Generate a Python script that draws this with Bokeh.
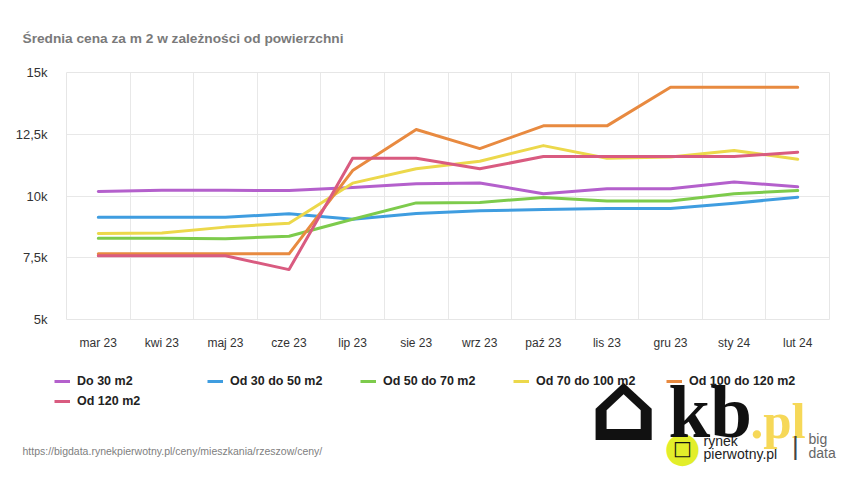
from bokeh.plotting import figure
from bokeh.models import Range1d, FixedTicker, Legend, LegendItem, Label, ColumnDataSource
from bokeh.layouts import column
from bokeh.embed import file_html
from bokeh.resources import INLINE

months = ["mar 23", "kwi 23", "maj 23", "cze 23", "lip 23", "sie 23",
          "wrz 23", "paź 23", "lis 23", "gru 23", "sty 24", "lut 24"]

do_30 = [10180, 10230, 10230, 10220, 10340, 10500, 10530, 10090, 10290, 10290, 10570, 10370]
od_30_50 = [9140, 9140, 9140, 9280, 9060, 9290, 9400, 9450, 9490, 9490, 9710, 9950]
od_50_70 = [8290, 8290, 8270, 8370, 9060, 9720, 9740, 9940, 9800, 9800, 10090, 10220]
od_70_100 = [8480, 8500, 8740, 8900, 10520, 11100, 11410, 12040, 11530, 11580, 11840, 11490]
od_100_120 = [7660, 7660, 7660, 7660, 11030, 12690, 11920, 12840, 12840, 14400, 14400, 14400]
od_120 = [7580, 7580, 7580, 7020, 11530, 11530, 11100, 11600, 11600, 11600, 11600, 11770]

series_names = ["Do 30 m2", "Od 30 do 50 m2", "Od 50 do 70 m2",
                "Od 70 do 100 m2", "Od 100 do 120 m2", "Od 120 m2"]
series_values = [do_30, od_30_50, od_50_70, od_70_100, od_100_120, od_120]
colors = ["#b460cc", "#3f9de0", "#7dcb4c", "#ecd84b", "#e88a40", "#d95b80"]

y_ticks = [5000, 7500, 10000, 12500, 15000]
y_tick_labels = ["5k", "7,5k", "10k", "12,5k", "15k"]

title_text = "Średnia cena za m 2 w zależności od powierzchni"
source_text = "https://bigdata.rynekpierwotny.pl/ceny/mieszkania/rzeszow/ceny/"

FONT = "Liberation Sans"
W = 842
H = 470
TOP_H = 60
MAIN_H = 295
BH = H - TOP_H - MAIN_H


def blank_fig(h):
    f = figure(width=W, height=h, output_backend="svg", toolbar_location=None,
               x_range=Range1d(0, W), y_range=Range1d(0, h),
               x_axis_type=None, y_axis_type=None, min_border=0,
               min_border_left=0, min_border_right=0, min_border_top=0, min_border_bottom=0,
               frame_align=False)
    f.title.visible = False
    f.outline_line_color = None
    f.xgrid.visible = False
    f.ygrid.visible = False
    f.border_fill_color = "white"
    return f


# ---------- top: title ----------
top = blank_fig(TOP_H)
top.add_layout(Label(x=22, y=22, x_units="screen", y_units="screen", text=title_text,
                     text_font=FONT, text_font_style="bold", text_font_size="13.7px",
                     text_color="#7a7a7a", text_baseline="middle"))

# ---------- main chart ----------
p = figure(width=W, height=MAIN_H, output_backend="svg", toolbar_location=None,
           x_range=Range1d(-0.5, len(months) - 0.5), y_range=Range1d(5000, 15000),
           min_border_left=66, min_border_right=13, min_border_top=12, min_border_bottom=36,
           frame_align=False)
p.title.visible = False
p.outline_line_color = "#e6e6e6"
p.border_fill_color = "white"

x = list(range(len(months)))
for name, vals, col in zip(series_names, series_values, colors):
    src = ColumnDataSource(dict(x=x, y=vals))
    p.line("x", "y", source=src, line_color=col, line_width=3, line_join="round", line_cap="round")

p.xaxis.ticker = FixedTicker(ticks=x)
p.xaxis.major_label_overrides = {i: m for i, m in enumerate(months)}
p.yaxis.ticker = FixedTicker(ticks=y_ticks)
p.yaxis.major_label_overrides = {t: l for t, l in zip(y_ticks, y_tick_labels)}
for ax in (p.xaxis, p.yaxis):
    ax.axis_line_color = None
    ax.major_tick_line_color = None
    ax.minor_tick_line_color = None
    ax.major_label_text_font = FONT
    ax.major_label_text_color = "#333333"
p.xaxis.major_label_text_font_size = "12px"
p.yaxis.major_label_text_font_size = "13px"
p.xaxis.major_label_standoff = 10
p.yaxis.major_label_standoff = 13

p.xgrid.ticker = FixedTicker(ticks=[i - 0.5 for i in range(len(months) + 1)])
p.xgrid.grid_line_color = "#e8e8e8"
p.ygrid.grid_line_color = "#e8e8e8"

# ---------- bottom: legend, source, logo ----------
bot = blank_fig(BH)
items = []
for name, col in zip(series_names, colors):
    r = bot.line(x=[float("nan")], y=[float("nan")], line_color=col, line_width=3)
    items.append(LegendItem(label=name, renderers=[r]))

legend = Legend(items=items, orientation="horizontal", ncols=5, location=(54, H - 408),
                padding=0, margin=0, spacing=6, glyph_width=16, glyph_height=14,
                label_standoff=7, label_width=124, label_height=14,
                label_text_font=FONT, label_text_font_style="bold",
                label_text_font_size="12.5px", label_text_color="#222222",
                border_line_color=None, background_fill_alpha=0)
bot.add_layout(legend)

bot.add_layout(Label(x=22, y=H - 450, x_units="screen", y_units="screen", text=source_text,
                     text_font=FONT, text_font_size="10.5px", text_color="#808080",
                     text_baseline="middle"))

# logo
bot.add_layout(Label(x=682, y=H - 446, x_units="screen", y_units="screen", text="●",
                     text_font="DejaVu Sans", text_font_size="42px", text_color="#e2ee2a",
                     text_align="center", text_baseline="middle"))
bot.add_layout(Label(x=682, y=H - 447, x_units="screen", y_units="screen", text="□",
                     text_font="DejaVu Sans", text_font_style="bold", text_font_size="20px",
                     text_color="#111111", text_align="center", text_baseline="middle"))
bot.add_layout(Label(x=703, y=H - 440, x_units="screen", y_units="screen", text="rynek",
                     text_font=FONT, text_font_size="14px", text_color="#222222",
                     text_baseline="middle"))
bot.add_layout(Label(x=703, y=H - 453, x_units="screen", y_units="screen", text="pierwotny.pl",
                     text_font=FONT, text_font_size="14px", text_color="#222222",
                     text_baseline="middle"))
bot.add_layout(Label(x=589, y=H - 406, x_units="screen", y_units="screen", text="⌂",
                     text_font="DejaVu Sans", text_font_style="bold", text_font_size="96px",
                     text_color="#111111", text_baseline="alphabetic"))
bot.add_layout(Label(x=668, y=H - 411, x_units="screen", y_units="screen", text="kb",
                     text_font="Liberation Serif", text_font_style="bold", text_font_size="75px",
                     text_color="#111111", text_baseline="alphabetic"))
bot.add_layout(Label(x=750, y=H - 420, x_units="screen", y_units="screen", text=".pl",
                     text_font="Liberation Serif", text_font_style="bold", text_font_size="51px",
                     text_color="#f6d858", text_baseline="alphabetic"))
bot.add_layout(Label(x=795, y=H - 445, x_units="screen", y_units="screen", text="|",
                     text_font=FONT, text_font_size="26px", text_color="#444444",
                     text_align="center", text_baseline="middle"))
bot.add_layout(Label(x=808, y=H - 438, x_units="screen", y_units="screen", text="big",
                     text_font=FONT, text_font_size="14px", text_color="#666666",
                     text_baseline="middle"))
bot.add_layout(Label(x=808, y=H - 452, x_units="screen", y_units="screen", text="data",
                     text_font=FONT, text_font_size="14px", text_color="#666666",
                     text_baseline="middle"))

layout = column(top, p, bot, spacing=0)
open("out.html", "w").write(file_html(layout, INLINE))
